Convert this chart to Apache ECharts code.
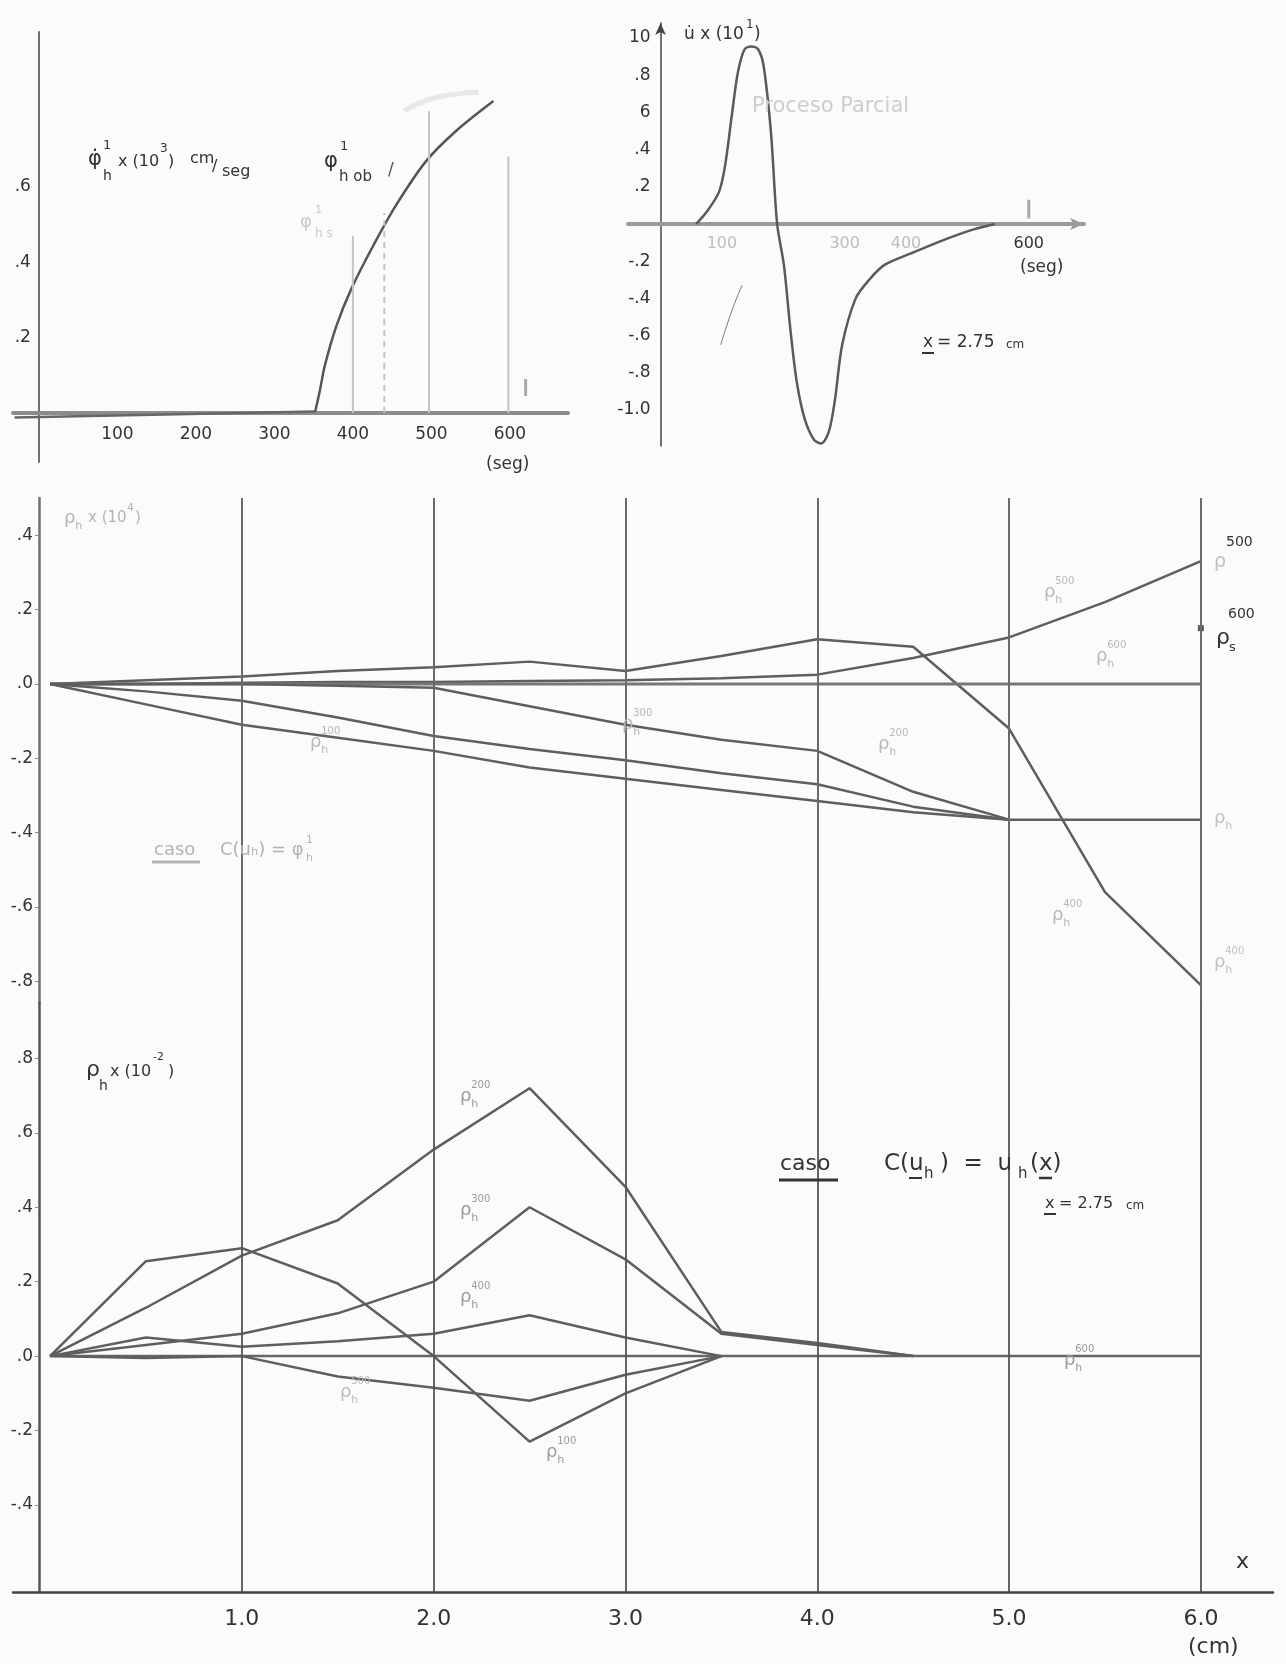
<!DOCTYPE html>
<html><head><meta charset="utf-8">
<script src="https://cdn.jsdelivr.net/npm/echarts@6/dist/echarts.min.js"></script>
<style>html,body{margin:0;padding:0;background:#fbfbfb}#c{width:1286px;height:1664px}</style>
</head><body><div id="c"></div>
<script>
// ---------- Panel A : phi'_h x(10^3) cm/seg versus t (seg) ----------
const phiFlatT = [-31, 352];
const phiFlatV = [-0.012, 0.004];
const phiRiseT = [352, 358, 364, 379, 398, 426, 455, 493, 531, 579];
const phiRiseV = [0.004, 0.06, 0.124, 0.231, 0.329, 0.444, 0.551, 0.667, 0.747, 0.827];
const phiObT = [465, 495, 530, 560];
const phiObV = [0.80, 0.83, 0.845, 0.85];
const phiGuideT = [400, 440, 497, 598];
const phiGuideTop = [0.47, 0.53, 0.80, 0.68];
const phiXTicks = [100, 200, 300, 400, 500, 600];
const phiXTickLabels = ['100', '200', '300', '400', '500', '600'];
const phiYTicks = [0.2, 0.4, 0.6];
const phiYTickLabels = ['.2', '.4', '.6'];

// ---------- Panel B : u x(10^1) versus t (seg), x = 2.75 cm ----------
const uT = [58, 74, 95, 105, 116, 126, 137, 148, 159, 168, 180, 190, 201, 212, 222, 235, 250, 262, 274, 284, 296, 318, 340, 365, 414, 466, 509, 545];
const uV = [0.0, 0.06, 0.17, 0.31, 0.58, 0.815, 0.94, 0.955, 0.94, 0.85, 0.49, 0.0, -0.22, -0.58, -0.85, -1.05, -1.16, -1.18, -1.12, -0.95, -0.65, -0.40, -0.30, -0.22, -0.15, -0.08, -0.03, 0.0];
const uXTicks = [100, 300, 400, 600];
const uXTickLabels = ['100', '300', '400', '600'];
const uYTicks = [1.0, 0.8, 0.6, 0.4, 0.2, -0.2, -0.4, -0.6, -0.8, -1.0];
const uYTickLabels = ['10', '.8', '6', '.4', '.2', '-.2', '-.4', '-.6', '-.8', '-1.0'];

// ---------- Panel C : rho_h x(10^4) versus x (cm), caso C(u_h) = phi'_h ----------
const xCm = [0, 0.5, 1, 1.5, 2, 2.5, 3, 3.5, 4, 4.5, 5, 5.5, 6];
const rhoM400 = [0, 0.01, 0.02, 0.035, 0.045, 0.06, 0.035, 0.075, 0.12, 0.10, -0.12, -0.56, -0.81];
const rhoM500 = [0, 0, 0.003, 0.005, 0.005, 0.008, 0.01, 0.015, 0.025, 0.07, 0.125, 0.22, 0.33];
const rhoM600 = [0, 0, 0, 0, 0, 0, 0, 0, 0, 0, 0, 0, 0];
const rhoM300 = [0, 0, 0, -0.005, -0.01, -0.06, -0.11, -0.15, -0.18, -0.29, -0.365];
const rhoM200 = [0, -0.02, -0.045, -0.09, -0.14, -0.175, -0.205, -0.24, -0.27, -0.33, -0.365];
const rhoM100 = [0, -0.055, -0.11, -0.145, -0.18, -0.225, -0.255, -0.285, -0.315, -0.345, -0.365, -0.365, -0.365];
const rhoS600 = [[6, 0.15]];
const midYTicks = [0.4, 0.2, 0, -0.2, -0.4, -0.6, -0.8];
const midYTickLabels = ['.4', '.2', '.0', '-.2', '-.4', '-.6', '-.8'];

// ---------- Panel D : rho_h x(10^-2) versus x (cm), caso C(u_h) = u_h(x) ----------
const rhoB100 = [0, 0.255, 0.29, 0.195, 0.0, -0.23, -0.1, 0];
const rhoB200 = [0, 0.13, 0.27, 0.365, 0.555, 0.72, 0.455, 0.065, 0.035, 0];
const rhoB300 = [0, 0.03, 0.06, 0.115, 0.2, 0.4, 0.26, 0.06, 0.03, 0];
const rhoB400 = [0, 0.05, 0.025, 0.04, 0.06, 0.11, 0.05, 0];
const rhoB500 = [0, -0.005, 0, -0.055, -0.085, -0.12, -0.05, 0];
const rhoB600 = [0, 0, 0, 0, 0, 0, 0, 0, 0, 0, 0, 0, 0];
const botYTicks = [0.8, 0.6, 0.4, 0.2, 0, -0.2, -0.4];
const botYTickLabels = ['.8', '.6', '.4', '.2', '.0', '-.2', '-.4'];
const cmTicks = [1, 2, 3, 4, 5, 6];
const cmTickLabels = ['1.0', '2.0', '3.0', '4.0', '5.0', '6.0'];

// ---------------------------------------------------------------------------
const F = '"DejaVu Sans", "Liberation Sans", sans-serif';
const LINE = '#5e5e5e';
const zip = (xs, ys) => ys.map((y, i) => [xs[i], y]);
const lookup = (ticks, labels) => (v) => {
  const i = ticks.findIndex(t => Math.abs(t - v) < 1e-6);
  return i >= 0 ? labels[i] : '';
};
function lineSeries(name, data, xi, opts) {
  return Object.assign({
    type: 'line', name, data, xAxisIndex: xi, yAxisIndex: xi, symbol: 'none',
    silent: true, animation: false,
    lineStyle: { color: LINE, width: 2.5 }
  }, opts || {});
}

// ---- text helpers (annotations) ----
const G = [];
function T(x, y, text, size, color, extra) {
  G.push(Object.assign({
    type: 'text', x, y, silent: true, z: 50,
    style: Object.assign({
      text, fill: color || '#333', font: size + 'px ' + F,
      textAlign: 'left', textVerticalAlign: 'middle', align: 'left', verticalAlign: 'middle'
    }, (extra && extra.style) || {})
  }, (extra && extra.el) || {}));
}
function L(x1, y1, x2, y2, color, w) {
  G.push({ type: 'line', silent: true, z: 50, shape: { x1, y1, x2, y2 }, style: { stroke: color, lineWidth: w || 2 } });
}
function rho(x, y, sup, sub, color, size) {
  size = size || 18;
  T(x, y, 'ρ', size, color);
  if (sup) T(x + size * 0.62, y - size * 0.6, sup, Math.round(size * 0.55), color);
  if (sub) T(x + size * 0.62, y + size * 0.45, sub, Math.round(size * 0.6), color);
}

// Panel A texts
T(88, 160, 'φ̇', 21, '#333');
T(103, 146, '1', 13, '#333');
T(103, 176, 'h', 14, '#333');
T(118, 162, 'x (10', 16, '#333');
T(160, 149, '3', 12, '#333');
T(168, 162, ')', 16, '#333');
T(190, 159, 'cm', 16, '#333');
T(212, 167, '/', 16, '#333');
T(222, 172, 'seg', 16, '#333');
T(324, 162, 'φ', 21, '#333');
T(340, 147, '1', 13, '#333');
T(339, 177, 'h ob', 15, '#333');
T(388, 171, '/', 17, '#555');
T(300, 222, 'φ', 18, '#c9c9c9');
T(315, 210, '1', 11, '#c9c9c9');
T(315, 234, 'h s', 12, '#c9c9c9');
T(486, 465, '(seg)', 17, '#333');

// Panel B texts
T(684, 35, 'u̇ x (10', 17, '#333');
T(746, 25, '1', 12, '#333');
T(754, 35, ')', 17, '#333');
T(752, 107, 'Proceso Parcial', 21, '#cdcdcd', { style: { shadowBlur: 5, shadowColor: '#d5d5d5' } });
T(923, 343, 'x', 17, '#333');
L(922, 353, 934, 353, '#333', 2);
T(937, 343, '= 2.75', 17, '#333');
T(1006, 345, 'cm', 12, '#333');
T(1020, 268, '(seg)', 17, '#333');

// Panel C texts (faint scan text)
rho(64, 518, '', 'h', '#b3b3b3', 18);
T(88, 518, 'x (10', 15, '#b3b3b3');
T(127, 508, '4', 11, '#b3b3b3');
T(135, 518, ')', 15, '#b3b3b3');
T(154, 850, 'caso', 18, '#b3b3b3');
L(152, 862, 200, 862, '#b3b3b3', 3);
T(220, 850, 'C(uₕ) = φ', 18, '#b3b3b3');
T(306, 840, '1', 11, '#b3b3b3');
T(306, 858, 'h', 11, '#b3b3b3');
rho(310, 742, '100', 'h', '#b8b8b8', 18);
rho(622, 724, '300', 'h', '#b8b8b8', 18);
rho(878, 744, '200', 'h', '#b8b8b8', 18);
rho(1044, 592, '500', 'h', '#b8b8b8', 18);
rho(1096, 656, '600', 'h', '#b8b8b8', 18);
rho(1052, 915, '400', 'h', '#b8b8b8', 18);
rho(1214, 962, '400', 'h', '#c0c0c0', 18);
rho(1214, 818, '', 'h', '#c0c0c0', 18);
T(1214, 562, 'ρ', 19, '#c0c0c0');
T(1226, 542, '500', 14, '#333');
T(1216, 638, 'ρ', 22, '#333');
T(1228, 614, '600', 14, '#333');
T(1229, 648, 's', 13, '#333');

// Panel D texts
T(86, 1070, 'ρ', 22, '#333');
T(99, 1086, 'h', 14, '#333');
T(110, 1072, 'x (10', 16, '#333');
T(153, 1057, '-2', 11, '#333');
T(168, 1072, ')', 16, '#333');
T(780, 1164, 'caso', 22, '#333');
L(779, 1180, 838, 1180, '#333', 3);
T(884, 1164, 'C(u', 23, '#333');
T(924, 1174, 'h', 15, '#333');
T(940, 1164, ')  =  u', 23, '#333');
T(1018, 1174, 'h', 15, '#333');
T(1030, 1164, '(x)', 23, '#333');
L(909, 1178, 922, 1178, '#333', 2);
L(1039, 1178, 1052, 1178, '#333', 2.5);
T(1045, 1204, 'x', 16, '#333');
L(1044, 1214, 1056, 1214, '#333', 2);
T(1059, 1204, '= 2.75', 16, '#333');
T(1126, 1206, 'cm', 12, '#333');
T(1236, 1562, 'x', 22, '#333');
T(1188, 1647, '(cm)', 22, '#333');
rho(460, 1096, '200', 'h', '#9a9a9a', 18);
rho(460, 1210, '300', 'h', '#9a9a9a', 18);
rho(460, 1297, '400', 'h', '#9a9a9a', 18);
rho(546, 1452, '100', 'h', '#9a9a9a', 18);
rho(340, 1392, '500', 'h', '#bbbbbb', 18);
rho(1064, 1360, '600', 'h', '#9a9a9a', 18);

// ---------------------------------------------------------------------------
// grid rectangles (px); axis offsets put each axis line where it sits in the original
const gA = { left: 13, top: 32, width: 555, height: 430 };
const gB = { left: 628, top: 23, width: 456, height: 423 };
const gC = { left: 13, top: 498, width: 1260, height: 505 };
const gD = { left: 13, top: 1003, width: 1260, height: 589 };
const rA = { x: [-33, 674], y: [-0.13, 1.01] };
const rB = { x: [-53, 690], y: [-1.194, 1.081] };
const rCD = { x: [-0.193, 6.376] };
const zeroOffX = (g, r) => -((0 - r[0]) / (r[1] - r[0]) * g.width);   // yAxis shifted right to x=0
const zeroOffY = (g, r) => -((0 - r[0]) / (r[1] - r[0]) * g.height);  // xAxis shifted up to y=0
const cmAxisOff = -26;   // y axes of the two lower panels sit just left of x = 0

const axisFont = { fontFamily: F, color: '#333' };
const noSplit = { show: false };
const grids = [gA, gB, gC, gD].map(g => Object.assign({ outerBoundsMode: 'none', containLabel: false }, g));
const option = {
  backgroundColor: '#fbfbfb',
  animation: false,
  grid: grids,
  xAxis: [
    { gridIndex: 0, type: 'value', min: rA.x[0], max: rA.x[1], splitLine: noSplit,
      offset: zeroOffY(gA, rA.y),
      axisLine: { onZero: false, lineStyle: { color: '#8c8c8c', width: 4 } },
      axisTick: { show: false },
      axisLabel: Object.assign({ customValues: phiXTicks, formatter: lookup(phiXTicks, phiXTickLabels), fontSize: 17, margin: 13 }, axisFont) },
    { gridIndex: 1, type: 'value', min: rB.x[0], max: rB.x[1], splitLine: noSplit,
      offset: zeroOffY(gB, rB.y),
      axisLine: { onZero: false, symbol: ['none', 'arrow'], symbolSize: [9, 14], lineStyle: { color: '#9a9a9a', width: 4 } },
      axisTick: { show: false },
      axisLabel: { customValues: uXTicks, formatter: lookup(uXTicks, uXTickLabels), fontSize: 16, margin: 12, fontFamily: F,
        color: (v) => (String(v) === '600' ? '#333' : '#bdbdbd') } },
    { gridIndex: 2, type: 'value', min: rCD.x[0], max: rCD.x[1], show: false },
    { gridIndex: 3, type: 'value', min: rCD.x[0], max: rCD.x[1], splitLine: noSplit,
      axisLine: { onZero: false, lineStyle: { color: '#444', width: 2.5 } },
      axisTick: { show: false },
      axisLabel: Object.assign({ customValues: cmTicks, formatter: lookup(cmTicks, cmTickLabels), fontSize: 22, margin: 16 }, axisFont) }
  ],
  yAxis: [
    { gridIndex: 0, type: 'value', min: rA.y[0], max: rA.y[1], splitLine: noSplit,
      offset: zeroOffX(gA, rA.x),
      axisLine: { onZero: false, lineStyle: { color: '#707070', width: 2 } },
      axisTick: { show: false },
      axisLabel: Object.assign({ customValues: phiYTicks, formatter: lookup(phiYTicks, phiYTickLabels), fontSize: 17, margin: 8 }, axisFont) },
    { gridIndex: 1, type: 'value', min: rB.y[0], max: rB.y[1], splitLine: noSplit,
      offset: zeroOffX(gB, rB.x),
      axisLine: { onZero: false, symbol: ['none', 'arrow'], symbolSize: [8, 12], lineStyle: { color: '#444', width: 1.5 } },
      axisTick: { show: false },
      axisLabel: Object.assign({ customValues: uYTicks, formatter: lookup(uYTicks, uYTickLabels), fontSize: 17, margin: 10 }, axisFont) },
    { gridIndex: 2, type: 'value', min: -0.858, max: 0.5, splitLine: noSplit,
      offset: cmAxisOff,
      axisLine: { onZero: false, lineStyle: { color: '#707070', width: 2.5 } },
      axisTick: { show: true, customValues: midYTicks, length: 4, lineStyle: { color: '#888' } },
      axisLabel: Object.assign({ customValues: midYTicks, formatter: lookup(midYTicks, midYTickLabels), fontSize: 17, margin: 6 }, axisFont) },
    { gridIndex: 3, type: 'value', min: -0.634, max: 0.949, splitLine: noSplit,
      offset: cmAxisOff,
      axisLine: { onZero: false, lineStyle: { color: '#555', width: 2.5 } },
      axisTick: { show: true, customValues: botYTicks, length: 4, lineStyle: { color: '#888' } },
      axisLabel: Object.assign({ customValues: botYTicks, formatter: lookup(botYTicks, botYTickLabels), fontSize: 17, margin: 6 }, axisFont) }
  ],
  series: [
    // Panel A
    lineSeries('phi_flat', zip(phiFlatT, phiFlatV), 0, { lineStyle: { color: '#666', width: 2.5 } }),
    lineSeries('phi_h', zip(phiRiseT, phiRiseV), 0, { smooth: 0.3, lineStyle: { color: '#555', width: 2.5 } }),
    lineSeries('phi_h_ob', zip(phiObT, phiObV), 0, { smooth: true, lineStyle: { color: '#e8e8e8', width: 5 } }),
    ...phiGuideT.map((t, i) => lineSeries('guide' + t, [[t, 0], [t, phiGuideTop[i]]], 0,
      { lineStyle: { color: '#c4c4c4', width: 2, type: t === 440 ? [6, 5] : 'solid' } })),
    lineSeries('mark620', [[620, 0.045], [620, 0.09]], 0, { lineStyle: { color: '#aaa', width: 3 } }),
    // Panel B
    lineSeries('u', zip(uT, uV), 1, { smooth: 0.3, lineStyle: { color: '#5a5a5a', width: 2.5 } }),
    lineSeries('stroke', [[133, -0.33], [118, -0.45], [98, -0.65]], 1, { smooth: true, lineStyle: { color: '#777', width: 1 } }),
    lineSeries('mark600', [[600, 0.03], [600, 0.13]], 1, { lineStyle: { color: '#aaa', width: 3 } }),
    // Panel C
    lineSeries('rho400_m', zip(xCm, rhoM400), 2, {
      markLine: { silent: true, symbol: ['none', 'none'], label: { show: false },
        lineStyle: { color: '#6a6a6a', width: 2, type: 'solid' },
        data: cmTicks.map(v => ({ xAxis: v })) } }),
    lineSeries('rho500_m', zip(xCm, rhoM500), 2),
    lineSeries('rho600_m', zip(xCm, rhoM600), 2, { lineStyle: { color: '#777', width: 3 } }),
    lineSeries('rho300_m', zip(xCm, rhoM300), 2),
    lineSeries('rho200_m', zip(xCm, rhoM200), 2),
    lineSeries('rho100_m', zip(xCm, rhoM100), 2),
    { type: 'scatter', name: 'rhoS600', data: rhoS600, xAxisIndex: 2, yAxisIndex: 2, symbol: 'rect', symbolSize: 6,
      itemStyle: { color: '#333' }, silent: true, animation: false },
    // Panel D
    lineSeries('rho600_b', zip(xCm, rhoB600), 3, { lineStyle: { color: '#666', width: 2.5 },
      markLine: { silent: true, symbol: ['none', 'none'], label: { show: false },
        lineStyle: { color: '#555', width: 1.8, type: 'solid' },
        data: cmTicks.map(v => ({ xAxis: v })) } }),
    lineSeries('rho100_b', zip(xCm, rhoB100), 3),
    lineSeries('rho200_b', zip(xCm, rhoB200), 3),
    lineSeries('rho300_b', zip(xCm, rhoB300), 3),
    lineSeries('rho400_b', zip(xCm, rhoB400), 3),
    lineSeries('rho500_b', zip(xCm, rhoB500), 3)
  ],
  graphic: { elements: G }
};
const chart = echarts.init(document.getElementById('c'), null, { renderer: 'canvas' });
chart.setOption(option);
</script>
</body></html>
